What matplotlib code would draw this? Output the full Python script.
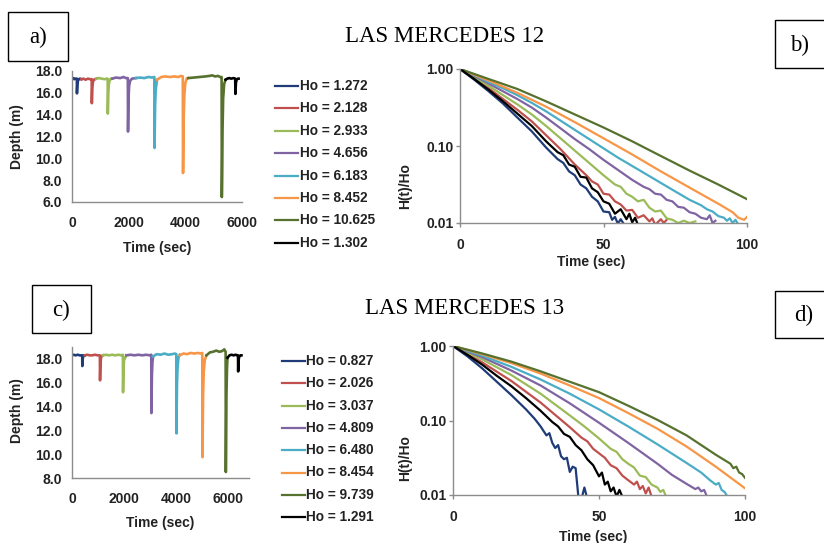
import matplotlib
matplotlib.use("Agg")
import matplotlib.pyplot as plt
from matplotlib.lines import Line2D
from matplotlib.patches import Rectangle
from matplotlib.ticker import FixedLocator, FixedFormatter, NullLocator

W, H = 824, 543

# ---------------- data ----------------
COLORS = ["#1F3C78", "#C0504D", "#9BBB59", "#8064A2", "#4BACC6", "#F79646", "#56722E", "#000000"]

HO12 = [1.272, 2.128, 2.933, 4.656, 6.183, 8.452, 10.625, 1.302]
HO13 = [0.827, 2.026, 3.037, 4.809, 6.480, 8.454, 9.739, 1.291]

# depth records, LAS MERCEDES 12 (time s, depth m)
D12_T = [
    [0, 40, 80, 120, 160, 172, 175, 180, 190, 210, 240, 280, 330],
    [330, 400, 480, 560, 640, 695, 700, 705, 715, 735, 770, 820, 860],
    [860, 950, 1050, 1150, 1230, 1259, 1264, 1270, 1280, 1300, 1330, 1370, 1420],
    [1420, 1550, 1700, 1820, 1900, 1970, 1977, 1984, 1995, 2015, 2050, 2120, 2250],
    [2250, 2400, 2550, 2700, 2820, 2905, 2913, 2921, 2933, 2955, 2990, 3000],
    [3000, 3150, 3300, 3450, 3600, 3750, 3850, 3910, 3919, 3928, 3940, 3965, 4000, 4050, 4100],
    [4100, 4300, 4500, 4700, 4850, 4950, 5050, 5150, 5230, 5280, 5288, 5298, 5312, 5335, 5370, 5420],
    [5420, 5480, 5550, 5620, 5700, 5760, 5768, 5775, 5785, 5810, 5850, 5880],
]
D12_D = [
    [17.3, 17.35, 17.25, 17.3, 17.3, 17.3, 15.95, 16.3, 16.8, 17.1, 17.25, 17.3, 17.25],
    [17.25, 17.3, 17.2, 17.3, 17.25, 17.25, 15.05, 15.5, 16.4, 16.95, 17.2, 17.25, 17.3],
    [17.3, 17.35, 17.3, 17.25, 17.3, 17.3, 14.1, 14.8, 16.0, 16.8, 17.15, 17.3, 17.3],
    [17.3, 17.4, 17.35, 17.45, 17.35, 17.35, 12.45, 13.6, 15.4, 16.6, 17.1, 17.3, 17.35],
    [17.35, 17.4, 17.35, 17.45, 17.4, 17.45, 10.95, 12.5, 14.8, 16.3, 17.0, 17.2],
    [17.2, 17.45, 17.5, 17.45, 17.5, 17.45, 17.55, 17.5, 8.65, 10.5, 13.5, 15.8, 16.9, 17.3, 17.35],
    [17.35, 17.4, 17.45, 17.5, 17.55, 17.6, 17.5, 17.55, 17.45, 17.45, 6.45, 8.5, 12.5, 15.5, 16.8, 17.2],
    [17.2, 17.3, 17.35, 17.3, 17.35, 17.3, 15.9, 16.3, 16.9, 17.2, 17.3, 17.3],
]

# depth records, LAS MERCEDES 13
D13_T = [
    [0, 60, 140, 220, 300, 370, 392, 397, 402, 412, 430, 460, 490],
    [490, 580, 680, 780, 880, 980, 1070, 1077, 1084, 1095, 1115, 1150, 1190],
    [1190, 1300, 1420, 1540, 1660, 1780, 1900, 1955, 1961, 1968, 1980, 2000, 2090],
    [2090, 2250, 2400, 2550, 2700, 2850, 2980, 3045, 3051, 3058, 3070, 3090, 3115],
    [3115, 3250, 3400, 3550, 3700, 3850, 3960, 4007, 4013, 4021, 4033, 4055, 4090, 4140],
    [4140, 4280, 4420, 4560, 4700, 4840, 4960, 5005, 5013, 5022, 5035, 5060, 5100, 5165],
    [5165, 5300, 5420, 5540, 5660, 5760, 5850, 5902, 5910, 5919, 5932, 5955, 5975],
    [5975, 6050, 6130, 6210, 6290, 6360, 6378, 6384, 6390, 6400, 6425, 6470, 6510],
]
D13_D = [
    [18.3, 18.35, 18.3, 18.35, 18.3, 18.3, 18.3, 17.4, 17.7, 18.0, 18.2, 18.3, 18.3],
    [18.3, 18.35, 18.3, 18.3, 18.35, 18.3, 18.3, 16.2, 16.8, 17.6, 18.1, 18.25, 18.3],
    [18.3, 18.35, 18.3, 18.35, 18.3, 18.35, 18.3, 18.35, 15.2, 16.0, 17.2, 17.9, 18.3],
    [18.3, 18.35, 18.3, 18.35, 18.3, 18.35, 18.3, 18.35, 13.45, 14.8, 16.6, 17.7, 18.2],
    [18.2, 18.4, 18.35, 18.45, 18.35, 18.4, 18.45, 18.4, 11.75, 13.4, 15.8, 17.3, 18.1, 18.35],
    [18.3, 18.45, 18.4, 18.5, 18.45, 18.5, 18.45, 18.5, 9.75, 11.8, 14.8, 16.9, 17.9, 18.3],
    [18.3, 18.55, 18.6, 18.7, 18.6, 18.65, 18.8, 18.6, 8.5, 11.0, 14.8, 17.2, 18.1],
    [18.1, 18.3, 18.35, 18.3, 18.35, 18.3, 18.3, 16.95, 17.4, 17.9, 18.2, 18.3, 18.3],
]

# normalised head H(t)/Ho, LAS MERCEDES 12
R12_T = [
    [0, 5, 10, 15, 20, 25, 30, 34, 36, 38, 40, 42, 44, 46, 48, 50, 52, 53, 54, 55, 56, 57],
    [0, 5, 10, 15, 20, 25, 30, 35, 40, 44, 46, 48, 50, 52, 54, 56, 58, 60, 62, 64, 66, 67, 68, 70, 71, 72],
    [0, 5, 10, 15, 20, 25, 30, 35, 40, 45, 50, 54, 56, 58, 60, 62, 64, 66, 68, 70, 72, 74, 76, 78, 80, 82],
    [0, 5, 10, 15, 20, 25, 30, 35, 40, 45, 50, 55, 60, 64, 66, 68, 70, 72, 74, 76, 78, 80, 82, 84, 86, 87, 88, 89],
    [0, 5, 10, 15, 20, 25, 30, 35, 40, 45, 50, 55, 60, 65, 70, 75, 80, 84, 86, 88, 90, 92, 93, 94, 95, 96, 97],
    [0, 10, 20, 30, 40, 50, 60, 70, 80, 90, 95, 97, 99, 100],
    [0, 10, 20, 30, 40, 50, 60, 70, 80, 90, 100],
    [0, 5, 10, 15, 20, 25, 30, 34, 36, 38, 40, 42, 44, 46, 48, 50, 52, 54, 56, 58, 59, 60, 61, 62],
]
R12_H = [
    [1.0, 0.724, 0.513, 0.355, 0.234, 0.155, 0.0955, 0.0676, 0.0603, 0.0468, 0.0417, 0.0316, 0.0282,
     0.0219, 0.0191, 0.0141, 0.0138, 0.0110, 0.0120, 0.0098, 0.0112, 0.0098],
    [1.0, 0.759, 0.562, 0.407, 0.295, 0.209, 0.138, 0.0912, 0.0575, 0.0417, 0.0347, 0.0316, 0.0240,
     0.0234, 0.0191, 0.0174, 0.0145, 0.0148, 0.0117, 0.0126, 0.0105, 0.0115, 0.0095, 0.0112, 0.0100, 0.0110],
    [1.0, 0.776, 0.603, 0.457, 0.347, 0.257, 0.182, 0.126, 0.0871, 0.0603, 0.0417, 0.0316, 0.0295,
     0.0240, 0.0219, 0.0191, 0.0200, 0.0158, 0.0141, 0.0145, 0.0115, 0.0110, 0.0100, 0.0107, 0.0100, 0.0105],
    [1.0, 0.813, 0.646, 0.513, 0.407, 0.316, 0.234, 0.170, 0.123, 0.0912, 0.0661, 0.0490, 0.0363,
     0.0295, 0.0275, 0.0240, 0.0234, 0.0200, 0.0191, 0.0162, 0.0158, 0.0138, 0.0132, 0.0117, 0.0112,
     0.0126, 0.0100, 0.0107],
    [1.0, 0.832, 0.676, 0.562, 0.457, 0.363, 0.282, 0.214, 0.162, 0.123, 0.0933, 0.0708, 0.0550,
     0.0427, 0.0331, 0.0257, 0.0200, 0.0170, 0.0151, 0.0141, 0.0123, 0.0117, 0.0107, 0.0115, 0.0100,
     0.0110, 0.0095],
    [1.0, 0.708, 0.490, 0.324, 0.204, 0.126, 0.0776, 0.0468, 0.0288, 0.0178, 0.0138, 0.0117, 0.0110, 0.0120],
    [1.0, 0.741, 0.550, 0.380, 0.257, 0.174, 0.115, 0.0741, 0.0479, 0.0316, 0.0204],
    [1.0, 0.741, 0.537, 0.380, 0.263, 0.182, 0.115, 0.0832, 0.0759, 0.0575, 0.0537, 0.0398, 0.0389,
     0.0282, 0.0251, 0.0191, 0.0178, 0.0132, 0.0151, 0.0112, 0.0132, 0.0102, 0.0117, 0.0095],
]

# normalised head H(t)/Ho, LAS MERCEDES 13
R13_T = [
    [0, 5, 10, 15, 20, 25, 28, 30, 32, 33, 34, 35, 36, 37, 38, 39, 40, 41, 42, 43, 44, 45, 46],
    [0, 10, 20, 30, 40, 44, 46, 48, 50, 52, 54, 56, 58, 60, 62, 63, 64, 65, 66, 67, 68],
    [0, 10, 20, 30, 40, 45, 50, 54, 56, 58, 60, 62, 64, 66, 68, 70, 71, 72, 73],
    [0, 10, 20, 30, 40, 50, 60, 70, 75, 80, 83, 84, 85, 86, 87],
    [0, 10, 20, 30, 40, 50, 60, 70, 80, 85, 88, 90, 91, 92, 93, 94],
    [0, 10, 20, 30, 40, 50, 60, 70, 80, 90, 100],
    [0, 10, 20, 30, 40, 50, 60, 70, 80, 90, 95, 96, 97, 98, 99, 100],
    [0, 5, 10, 15, 20, 25, 30, 34, 36, 38, 40, 42, 44, 46, 48, 50, 51, 52, 53, 54, 55, 56, 57, 58],
]
R13_H = [
    [1.0, 0.724, 0.501, 0.331, 0.219, 0.141, 0.105, 0.0832, 0.0631, 0.0676, 0.0501, 0.0427, 0.0468,
     0.0331, 0.0302, 0.0316, 0.0204, 0.0240, 0.0229, 0.0089, 0.0089, 0.0126, 0.0089],
    [1.0, 0.603, 0.339, 0.174, 0.0813, 0.0589, 0.0525, 0.0417, 0.0363, 0.0316, 0.0251, 0.0229, 0.0182,
     0.0158, 0.0138, 0.0151, 0.0120, 0.0132, 0.0105, 0.0126, 0.0095],
    [1.0, 0.661, 0.407, 0.229, 0.117, 0.0832, 0.0575, 0.0417, 0.0380, 0.0302, 0.0263, 0.0234, 0.0182,
     0.0174, 0.0138, 0.0126, 0.0110, 0.0117, 0.0095],
    [1.0, 0.708, 0.468, 0.295, 0.170, 0.0933, 0.0501, 0.0263, 0.0186, 0.0141, 0.0120, 0.0126, 0.0112,
     0.0117, 0.0095],
    [1.0, 0.741, 0.525, 0.355, 0.229, 0.141, 0.0832, 0.0479, 0.0269, 0.0200, 0.0158, 0.0138, 0.0145,
     0.0117, 0.0110, 0.0095],
    [1.0, 0.776, 0.589, 0.427, 0.295, 0.200, 0.126, 0.0776, 0.0447, 0.0240, 0.0123],
    [1.0, 0.794, 0.617, 0.457, 0.331, 0.240, 0.158, 0.102, 0.0631, 0.0347, 0.0263, 0.0229, 0.0240,
     0.0200, 0.0191, 0.0170],
    [1.0, 0.759, 0.562, 0.398, 0.288, 0.200, 0.135, 0.0955, 0.0832, 0.0661, 0.0603, 0.0468, 0.0398,
     0.0302, 0.0251, 0.0178, 0.0200, 0.0138, 0.0151, 0.0112, 0.0126, 0.0095, 0.0117, 0.0095],
]

DEPTH_XTICKS = [0, 2000, 4000, 6000]
D12_YTICKS = [6, 8, 10, 12, 14, 16, 18]
D13_YTICKS = [8, 10, 12, 14, 16, 18]
LOG_YTICKS = [0.01, 0.1, 1.0]
LOG_YLABELS = ["0.01", "0.10", "1.00"]
LOG_XTICKS = [0, 50, 100]
TITLES = ["LAS MERCEDES 12", "LAS MERCEDES 13"]
PANEL_TAGS = ["a)", "b)", "c)", "d)"]

# ---------------- drawing ----------------
SANS = "Liberation Sans"
SERIF = "Liberation Serif"
TXT = "#222222"
SPINE = "#8C8C8C"
FS = 10

fig = plt.figure(figsize=(W / 100, H / 100), dpi=100)
fig.patch.set_facecolor("white")


def ax_px(x0, y0, x1, y1):
    return fig.add_axes([x0 / W, 1 - y1 / H, (x1 - x0) / W, (y1 - y0) / H])


def style(ax):
    for s in ("top", "right"):
        ax.spines[s].set_visible(False)
    for s in ("left", "bottom"):
        ax.spines[s].set_color(SPINE)
        ax.spines[s].set_linewidth(1.0)
    ax.set_facecolor("white")
    for lab in ax.get_xticklabels() + ax.get_yticklabels():
        lab.set_fontfamily(SANS)
        lab.set_fontweight("bold")
        lab.set_fontsize(FS)
        lab.set_color(TXT)


def depth_panel(box, ts, ds, ylim, yticks, xmax):
    ax = ax_px(*box)
    for t, d, c in zip(ts, ds, COLORS):
        ax.plot(t, d, color=c, lw=1.9, solid_joinstyle="round")
    ax.set_xlim(0, xmax)
    ax.set_ylim(*ylim)
    ax.set_xticks(DEPTH_XTICKS)
    ax.set_xticklabels([str(v) for v in DEPTH_XTICKS])
    ax.set_yticks(yticks)
    ax.set_yticklabels([f"{v:.1f}" for v in yticks])
    ax.tick_params(axis="x", length=0, pad=10)
    ax.tick_params(axis="y", length=0, pad=7)
    style(ax)
    return ax


def decay_panel(box, ts, hs):
    ax = ax_px(*box)
    for t, h, c in zip(ts, hs, COLORS):
        ax.plot(t, h, color=c, lw=1.6, solid_joinstyle="round")
    ax.set_yscale("log")
    ax.set_xlim(0, 100)
    ax.set_ylim(0.01, 1.0)
    ax.yaxis.set_major_locator(FixedLocator(LOG_YTICKS))
    ax.yaxis.set_major_formatter(FixedFormatter(LOG_YLABELS))
    ax.yaxis.set_minor_locator(NullLocator())
    ax.set_xticks(LOG_XTICKS)
    ax.set_xticklabels([str(v) for v in LOG_XTICKS])
    ax.tick_params(axis="both", length=3, width=1, color=SPINE, direction="out")
    ax.tick_params(axis="x", pad=8)
    ax.tick_params(axis="y", pad=1.5)
    style(ax)
    return ax


def label(ax, x, y, s, rot=0):
    ax.text(x, y, s, transform=ax.transAxes, ha="center", va="center", rotation=rot,
            fontfamily=SANS, fontweight="bold", fontsize=FS, color=TXT)


# panel a
axa = depth_panel((72, 71, 242, 202), D12_T, D12_D, (6, 18), D12_YTICKS, 6000)
label(axa, (17 - 72) / 170, (202 - 137) / 131, "Depth (m)", 90)
label(axa, 0.5, (202 - 248) / 131, "Time (sec)")

# panel c
axc = depth_panel((72, 347, 249, 478), D13_T, D13_D, (8, 19), D13_YTICKS, 6800)
label(axc, (17 - 72) / 177, (478 - 411) / 131, "Depth (m)", 90)
label(axc, (160 - 72) / 177, (478 - 523) / 131, "Time (sec)")

# panel b
axb = decay_panel((460, 69, 747, 223), R12_T, R12_H)
label(axb, (405 - 460) / 287, (223 - 186) / 154, "H(t)/Ho", 90)
label(axb, (591 - 460) / 287, (223 - 262) / 154, "Time (sec)")

# panel d
axd = decay_panel((453, 346, 745, 495), R13_T, R13_H)
label(axd, (405 - 453) / 292, (495 - 458) / 149, "H(t)/Ho", 90)
label(axd, (593 - 453) / 292, (495 - 537) / 149, "Time (sec)")


# legends
def legend(x0, x1, y0, dy, hos):
    for i, (ho, c) in enumerate(zip(hos, COLORS)):
        y = 1 - (y0 + dy * i) / H
        fig.add_artist(Line2D([x0 / W, x1 / W], [y, y], color=c, lw=1.6,
                              transform=fig.transFigure))
        fig.text((x1 + 1.5) / W, y, f"Ho = {ho:.3f}", ha="left", va="center",
                 fontfamily=SANS, fontweight="bold", fontsize=9.8, color=TXT)


legend(275, 298, 86, 22.4, HO12)
legend(282, 305, 361, 22.3, HO13)

# titles
fig.text(445 / W, 1 - 36 / H, TITLES[0], ha="center", va="center",
         fontfamily=SERIF, fontsize=16.5, color="black")
fig.text(465 / W, 1 - 309 / H, TITLES[1], ha="center", va="center",
         fontfamily=SERIF, fontsize=16.5, color="black")


# panel tag boxes
def tag(x0, y0, x1, y1, tx, ty, s):
    fig.add_artist(Rectangle((x0 / W, 1 - y1 / H), (x1 - x0) / W, (y1 - y0) / H,
                             transform=fig.transFigure, fill=False, ec="black", lw=1.0,
                             clip_on=False))
    fig.text(tx / W, 1 - ty / H, s, ha="center", va="center",
             fontfamily=SERIF, fontsize=16.5, color="black")


tag(8, 12, 68, 61, 38, 37, PANEL_TAGS[0])
tag(775, 20, 840, 68, 800, 45, PANEL_TAGS[1])
tag(32, 285, 91, 333, 61.5, 310, PANEL_TAGS[2])
tag(775, 291, 840, 338, 804, 315, PANEL_TAGS[3])

fig.savefig("out.png", dpi=100, facecolor="white")
